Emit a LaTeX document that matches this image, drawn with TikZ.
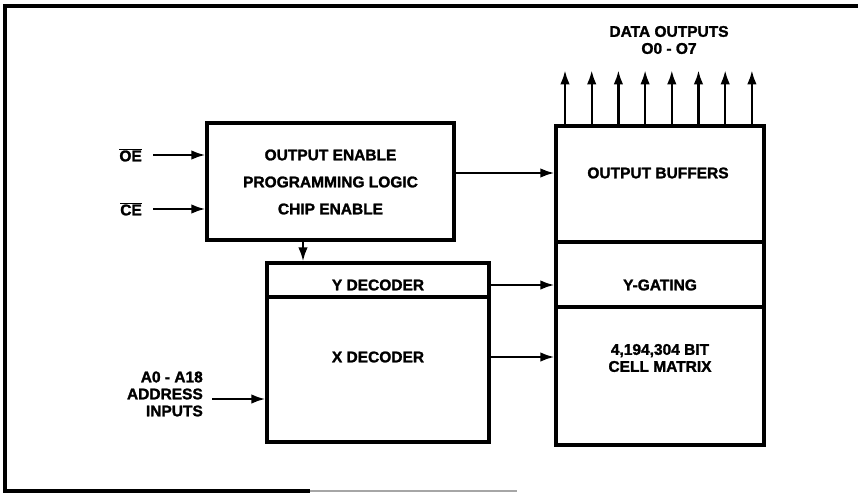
\documentclass[tikz,border=0pt]{standalone}
\usepackage{fontspec}
\setmainfont{Liberation Sans}[BoldFeatures={FakeBold=1.6}]
\usetikzlibrary{arrows.meta}
\tikzset{
  blockbox/.style={draw, line width=3.3pt, rectangle, inner sep=0pt},
  arrowline/.style={line width=2.2pt, -{Latex[length=14pt,width=9.5pt]}},
  lbl/.style={font=\fontsize{15.5}{17}\selectfont\bfseries, inner sep=0pt, align=center}
}
\begin{document}
\begin{tikzpicture}[x=1pt,y=-1pt]
\useasboundingbox (0,0) rectangle (858,495);

% outer frame
\draw[line width=3.5pt] (858,6) -- (5,6) -- (5,491) -- (310,491);
\draw[line width=2pt, black!35] (310,491) -- (517,491);

% control logic
\node[blockbox, minimum width=247pt, minimum height=117pt] (ctrl) at (330.5,181.5) {};
\node[lbl] (ctrltxt) at (330.5,182) {OUTPUT ENABLE\\[10pt]PROGRAMMING LOGIC\\[10pt]CHIP ENABLE};

% decoders
\node[blockbox, minimum width=222pt, minimum height=34pt] (ydec) at (378,280) {};
\node[blockbox, minimum width=222pt, minimum height=145pt] (xdec) at (378,369.5) {};
\node[lbl] (ydectxt) at (378,285) {Y DECODER};
\node[lbl] (xdectxt) at (378,357) {X DECODER};

% memory side
\node[blockbox, minimum width=208pt, minimum height=116pt] (buf) at (660,184) {};
\node[blockbox, minimum width=208pt, minimum height=65pt] (ygate) at (660,274.5) {};
\node[blockbox, minimum width=208pt, minimum height=138pt] (cells) at (660,376) {};
\node[lbl] (buftxt) at (658,173) {OUTPUT BUFFERS};
\node[lbl] (ygatetxt) at (660,285) {Y-GATING};
\node[lbl] (cellstxt) at (660,358) {4,194,304 BIT\\CELL MATRIX};

% inputs
\node[lbl, anchor=east] (oe) at (142,155) {$\overline{\mbox{OE}}$};
\node[lbl, anchor=east] (ce) at (142,209) {$\overline{\mbox{CE}}$};
\node[lbl, anchor=east, align=right] (addr) at (203,394) {A0 - A18\\ADDRESS\\INPUTS};
\node[lbl] (dout) at (669,40) {DATA OUTPUTS\\O0 - O7};

\draw[arrowline] (oe.east) ++(11,0) coordinate (oestart) -- (ctrl.west |- oestart);
\draw[arrowline] (ce.east) ++(11,0) coordinate (cestart) -- (ctrl.west |- cestart);
\draw[arrowline] (addr.east) ++(9,5) coordinate (addrstart) -- (xdec.west |- addrstart);

\coordinate (down) at (303,0);
\draw[arrowline] (ctrl.south -| down) -- (ydec.north -| down);

\draw[arrowline] (ctrl.east |- buftxt) -- (buf.west |- buftxt);
\draw[arrowline] (ydec.east |- ygatetxt) -- (ygate.west |- ygatetxt);
\draw[arrowline] (xdec.east |- xdectxt) -- (cells.west |- xdectxt);

\foreach \i in {0,...,7}
  \draw[arrowline] (buf.north -| {565+\i*26.7},0) -- ++(0,-54);
\end{tikzpicture}
\end{document}
